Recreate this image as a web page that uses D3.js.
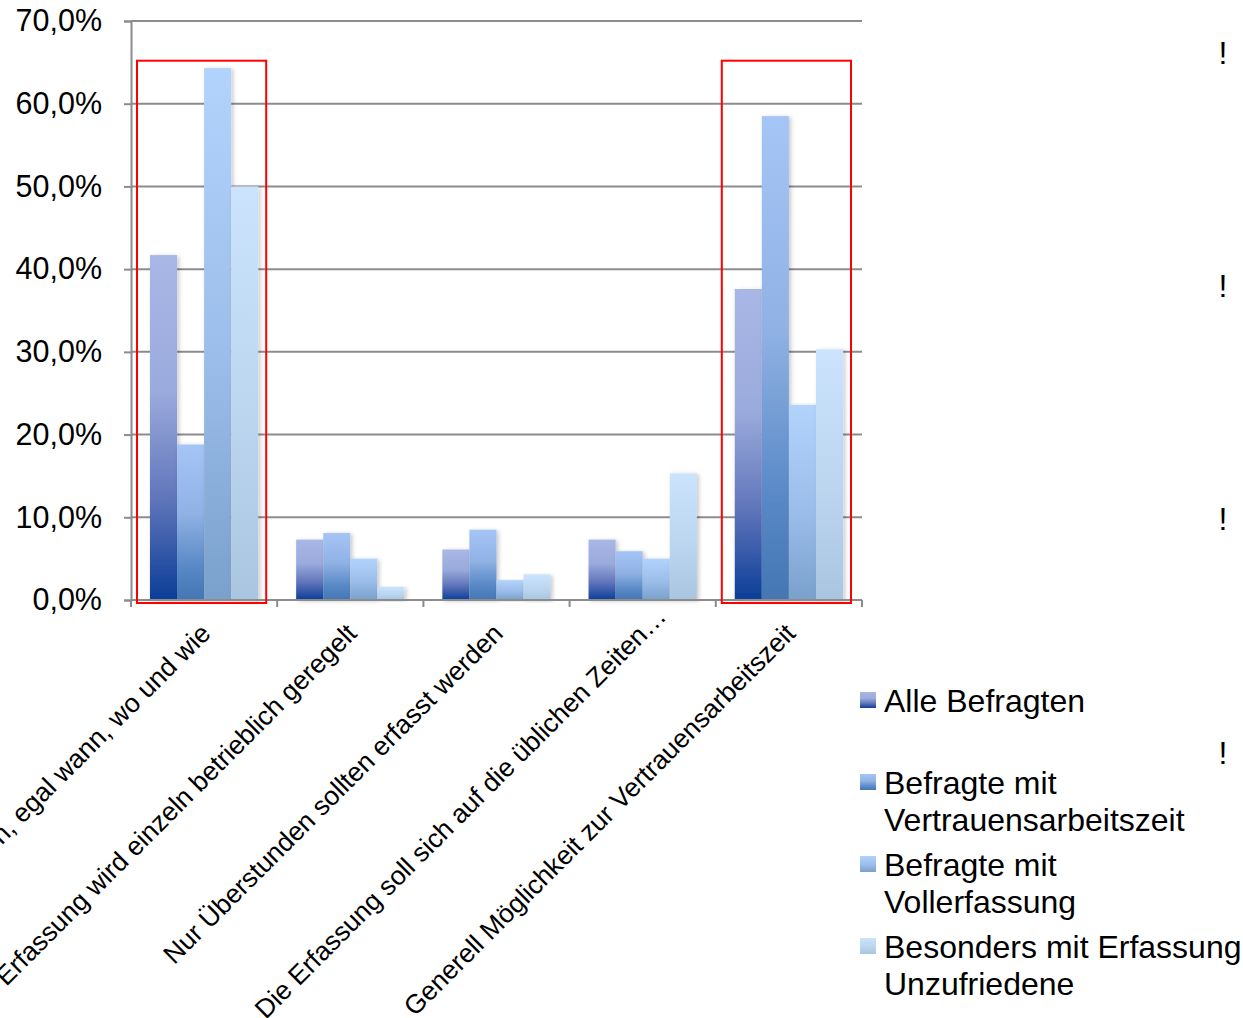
<!DOCTYPE html>
<html>
<head>
<meta charset="utf-8">
<script src="https://cdn.jsdelivr.net/npm/d3@7"></script>
<style>
  html, body { margin: 0; padding: 0; background: #fff; }
  svg { display: block; font-family: "Liberation Sans", Arial, sans-serif; }
</style>
</head>
<body>
<svg id="chart" width="1243" height="1018"></svg>
<script>
// Answer categories (x axis)
const categories = [
  "Flexibel erfassen, egal wann, wo und wie",
  "Die Erfassung wird einzeln betrieblich geregelt",
  "Nur Überstunden sollten erfasst werden",
  "Die Erfassung soll sich auf die üblichen Zeiten…",
  "Generell Möglichkeit zur Vertrauensarbeitszeit"
];

// Respondent groups (series)
const seriesNames = [
  "Alle Befragten",
  "Befragte mit Vertrauensarbeitszeit",
  "Befragte mit Vollerfassung",
  "Besonders mit Erfassung Unzufriedene"
];

// Share of respondents per series, in percent, one value per category
const alleBefragten         = [41.7, 7.3, 6.1, 7.3, 37.6];
const vertrauensarbeitszeit = [18.8, 8.1, 8.5, 5.9, 58.5];
const vollerfassung         = [64.3, 5.0, 2.4, 5.0, 23.6];
const unzufriedene          = [50.0, 1.6, 3.1, 15.3, 30.3];

// Legend lines (wrapped as in the legend box)
const legendLines = [
  ["Alle Befragten"],
  ["Befragte mit", "Vertrauensarbeitszeit"],
  ["Befragte mit", "Vollerfassung"],
  ["Besonders mit Erfassung", "Unzufriedene"]
];

const yTicks = [0, 10, 20, 30, 40, 50, 60, 70];

// Categories framed in red
const highlighted = [0, 4];

const seriesValues = [alleBefragten, vertrauensarbeitszeit, vollerfassung, unzufriedene];

// Vertical gradients per series (top -> bottom)
const gradientStops = [
  [["0%", "#a9b7e6"], ["40%", "#9aaadc"], ["70%", "#6276bb"], ["100%", "#0b3e98"]],
  [["0%", "#a6c5f7"], ["45%", "#8fb1e3"], ["80%", "#5787c5"], ["100%", "#4576b4"]],
  [["0%", "#b1d3fc"], ["55%", "#9bbde9"], ["100%", "#79a1cb"]],
  [["0%", "#cbe3fc"], ["55%", "#bcd6f0"], ["100%", "#aac5e0"]]
];

const svg = d3.select("#chart");
const margin = { left: 131, right: 862, top: 21, bottom: 600 };

const y = d3.scaleLinear().domain([0, 70]).range([margin.bottom, margin.top]);
const x0 = d3.scaleBand().domain(d3.range(categories.length)).range([margin.left, margin.right]).padding(0);
const x1 = d3.scaleBand().domain(d3.range(seriesNames.length)).range([0, x0.bandwidth()])
  .paddingInner(0).paddingOuter(0.7);

const defs = svg.append("defs");
gradientStops.forEach((stops, i) => {
  const g = defs.append("linearGradient").attr("id", "grad" + i)
    .attr("x1", 0).attr("y1", 0).attr("x2", 0).attr("y2", 1);
  stops.forEach(s => g.append("stop").attr("offset", s[0]).attr("stop-color", s[1]));
});
const shadow = defs.append("filter").attr("id", "shadow")
  .attr("x", "-20%").attr("y", "-5%").attr("width", "150%").attr("height", "115%");
shadow.append("feDropShadow").attr("dx", 2).attr("dy", 1).attr("stdDeviation", 2)
  .attr("flood-color", "#000").attr("flood-opacity", 0.22);

const gridColor = "#8c8c8c";

// Horizontal gridlines
svg.append("g").selectAll("line").data(yTicks.filter(t => t > 0)).join("line")
  .attr("x1", margin.left).attr("x2", margin.right)
  .attr("y1", d => y(d)).attr("y2", d => y(d))
  .attr("stroke", gridColor).attr("stroke-width", 2);

// Y axis
const yAxis = svg.append("g").attr("transform", `translate(${margin.left},0)`)
  .call(d3.axisLeft(y).tickValues(yTicks).tickSize(7).tickPadding(22)
    .tickFormat(d => d3.format(".1f")(d).replace(".", ",") + "%"));
yAxis.attr("font-family", null).attr("font-size", null);
yAxis.select(".domain").attr("stroke", gridColor).attr("stroke-width", 2);
yAxis.selectAll(".tick line").attr("stroke", gridColor).attr("stroke-width", 2);
yAxis.selectAll(".tick text").attr("font-size", 30.5).attr("fill", "#000");

// Bars
const groups = svg.append("g").selectAll("g").data(categories).join("g")
  .attr("transform", (d, i) => `translate(${x0(i)},0)`);
groups.selectAll("rect").data((d, ci) => seriesValues.map((vals, si) => ({ si, v: vals[ci] })))
  .join("rect")
  .attr("x", d => x1(d.si))
  .attr("width", x1.bandwidth())
  .attr("y", d => y(d.v))
  .attr("height", d => y(0) - y(d.v))
  .attr("fill", d => `url(#grad${d.si})`)
  .attr("filter", "url(#shadow)");

// X axis line with ticks at category boundaries
const xAxisG = svg.append("g");
xAxisG.append("line").attr("x1", margin.left).attr("x2", margin.right)
  .attr("y1", y(0)).attr("y2", y(0)).attr("stroke", gridColor).attr("stroke-width", 2);
const boundaries = d3.range(categories.length + 1).map(i => margin.left + i * x0.step());
xAxisG.selectAll(".xt").data(boundaries).join("line").attr("class", "xt")
  .attr("x1", d => d).attr("x2", d => d).attr("y1", y(0)).attr("y2", y(0) + 7)
  .attr("stroke", gridColor).attr("stroke-width", 2);

// Rotated category labels; truncated labels (ending in an ellipsis) sit a little further along
svg.append("g").selectAll("text").data(categories).join("text")
  .attr("transform", (d, i) => {
    const shift = d.endsWith("…") ? 17 : 0;
    return `translate(${x0(i) + x0.bandwidth() / 2 + 8 + shift},${y(0) + 35 - shift}) rotate(-45)`;
  })
  .attr("text-anchor", "end")
  .attr("font-size", 26.5)
  .attr("fill", "#000")
  .text(d => d);

// Red frames around highlighted categories
const frameTop = 65.2;
svg.append("g").selectAll("rect").data(highlighted).join("rect")
  .attr("x", d => x0(d) + 6)
  .attr("width", x0.bandwidth() - 17)
  .attr("y", y(frameTop))
  .attr("height", y(0) + 3 - y(frameTop))
  .attr("fill", "none").attr("stroke", "#ff0000").attr("stroke-width", 2);

// Legend
const legend = svg.append("g").attr("transform", "translate(860,0)");
const legendY = [700, 782, 864, 946];
legendLines.forEach((lines, i) => {
  legend.append("rect").attr("x", 0).attr("y", legendY[i] - 8).attr("width", 16).attr("height", 16)
    .attr("fill", `url(#grad${i})`);
  const t = legend.append("text").attr("x", 24).attr("y", legendY[i])
    .attr("font-size", 32).attr("fill", "#000");
  lines.forEach((ln, k) => t.append("tspan").attr("x", 24).attr("dy", k === 0 ? "0.36em" : 37).text(ln));
});

// Stray marks at the right edge
svg.append("g").selectAll("text").data([52, 285, 518, 752]).join("text")
  .attr("x", 1223).attr("y", d => d).attr("dy", "0.36em").attr("text-anchor", "middle")
  .attr("font-size", 32).attr("fill", "#000").text("!");
</script>
</body>
</html>
